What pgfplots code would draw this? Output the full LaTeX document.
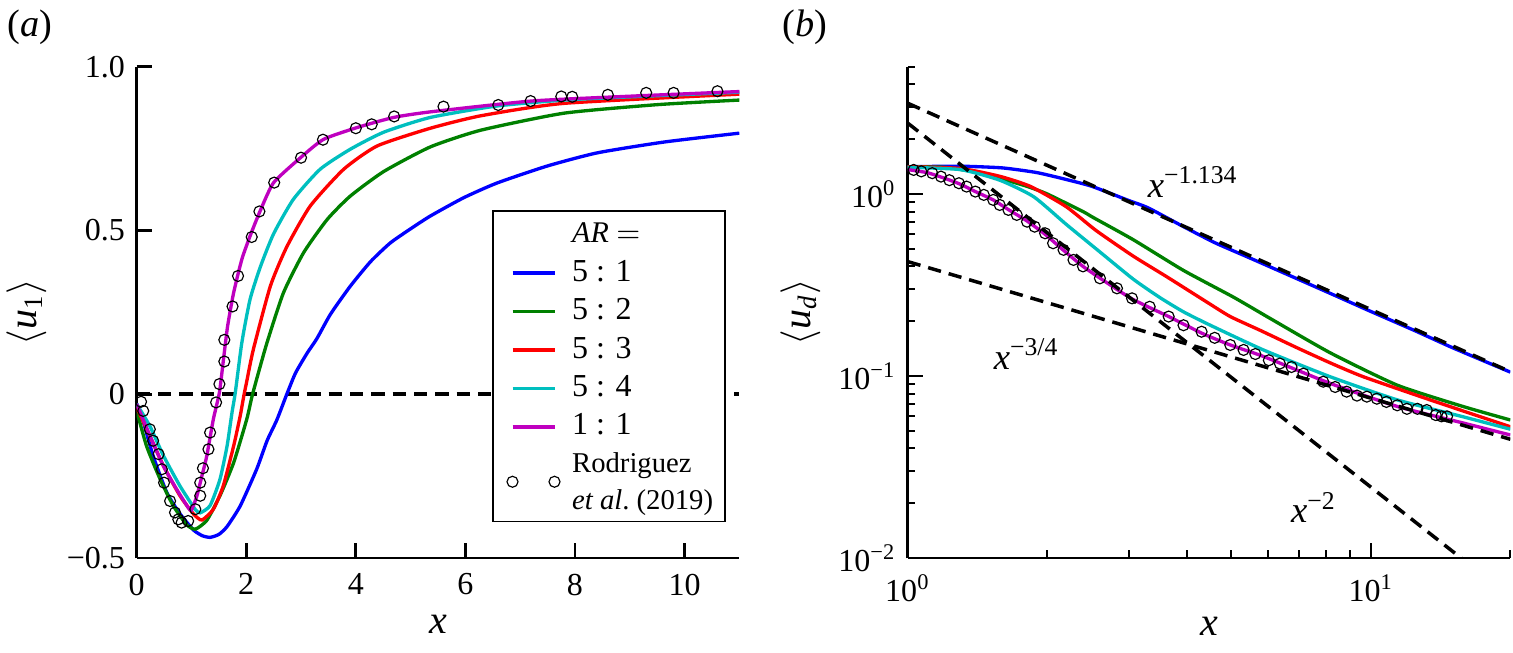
\documentclass[border=0pt]{standalone}
\usepackage{fontspec}
\setmainfont{Liberation Serif}
\usepackage{pgfplots}
\pgfplotsset{compat=1.18}

\definecolor{cB}{rgb}{0,0,1}
\definecolor{cG}{rgb}{0,0.5,0}
\definecolor{cR}{rgb}{1,0,0}
\definecolor{cC}{rgb}{0,0.75,0.75}
\definecolor{cM}{rgb}{0.75,0,0.75}

\pgfplotsset{
  panel/.style={
    scale only axis, width=180.8pt, height=147.4pt,
    axis x line=bottom, axis y line=left,
    axis line style={-, line width=0.8pt},
    tick align=inside, major tick length=4.5pt, minor tick length=2.3pt,
    every tick/.style={black, line width=0.8pt},
    every minor tick/.style={black, line width=0.6pt},
    ticklabel style={font=\fontsize{9.6}{11}\selectfont},
    label style={font=\fontsize{12}{14}\selectfont},
    enlargelimits=false,
  },
  curve/.style={line width=1pt, smooth, tension=0.35},
  guide/.style={black, line width=1.05pt, dash pattern=on 4pt off 2.4pt},
  refpts/.style={only marks, mark=o, mark size=1.65pt, black, mark options={line width=0.35pt}},
  % the two reference markers sit between the two text lines of their entry
  twomarks/.style={legend image code/.code={%
      \path (0pt,0pt) (19.2pt,0pt);
      \draw[overlay, black, only marks, mark=o, mark size=1.65pt, line width=0.35pt]
        plot coordinates {(1.8pt,-5.1pt) (14.4pt,-5.1pt)};}},
}

\begin{document}
\begin{tikzpicture}
\path[use as bounding box] (0,0) rectangle (453.9pt,195.6pt);

\node[anchor=west, inner sep=0pt, font=\fontsize{11.5}{13}\selectfont] at (2.1pt,187.5pt) {(\textit{a})};
\node[anchor=west, inner sep=0pt, font=\fontsize{11.5}{13}\selectfont] at (234.6pt,187.5pt) {(\textit{b})};

% ---------------- panel (a): mean streamwise velocity on the centreline
\begin{axis}[panel, at={(41pt,28.2pt)}, anchor=south west,
  xmin=0, xmax=11, ymin=-0.5, ymax=1,
  xtick={0,2,4,6,8,10}, xticklabels={0,2,4,6,8,10},
  ytick={-0.5,0,0.5,1}, yticklabels={\textminus0.5,0,0.5,1.0},
  xticklabel style={yshift=-1.2pt},
  xlabel={\textit{x}}, ylabel={$\langle$\textit{u}\textsubscript{1}$\rangle$},
  xlabel style={at={(axis description cs:0.5,-0.135)}, anchor=center},
  ylabel style={at={(axis description cs:-0.183,0.5)}, anchor=center},
  legend style={at={(0.5896,0.7083)}, anchor=north west, draw=black, line width=0.5pt,
    fill=white, font=\fontsize{9.6}{11}\selectfont, inner xsep=3.6pt, inner ysep=2pt,
    row sep=0.5pt, nodes={inner xsep=0pt, inner ysep=1.6pt}},
  legend cell align=left,
  legend image code/.code={\path (0pt,0pt) (19.2pt,0pt);
    \draw[#1, line width=1pt] (1.8pt,0pt) -- (14.4pt,0pt);},
]
\addplot[guide, forget plot] coordinates {(0,0) (11,0)};

\addlegendimage{empty legend}
\addlegendentry[font=\fontsize{9}{10}\selectfont]{\textit{AR} $=$}

\addplot[curve, cB] coordinates {
(0,-0.03) (0.08,-0.06) (0.3,-0.188) (0.55,-0.30) (0.79,-0.365) (1.04,-0.415)
(1.2,-0.432) (1.34,-0.437) (1.5,-0.428) (1.65,-0.404) (1.89,-0.341) (2.19,-0.229)
(2.38,-0.142) (2.56,-0.078) (2.74,0.0) (2.9,0.065) (3.11,0.125) (3.29,0.170)
(3.54,0.245) (3.9,0.33) (4.27,0.405) (4.63,0.462) (5.0,0.505) (5.36,0.544)
(5.97,0.600) (6.58,0.645) (7.5,0.697) (8.41,0.737) (9.63,0.770) (11,0.797)};
\addlegendentry{5 : 1}

\addplot[curve, cG] coordinates {
(0,-0.05) (0.18,-0.158) (0.43,-0.26) (0.67,-0.341) (0.91,-0.398) (1.07,-0.412)
(1.28,-0.385) (1.52,-0.31) (1.77,-0.209) (2.01,-0.076) (2.10,-0.01) (2.19,0.046)
(2.38,0.158) (2.68,0.31) (3.05,0.433) (3.48,0.534) (3.9,0.605) (4.51,0.680)
(5.36,0.755) (6.28,0.806) (7.8,0.858) (9.5,0.884) (11,0.898)};
\addlegendentry{5 : 2}

\addplot[curve, cR] coordinates {
(0,-0.04) (0.24,-0.127) (0.49,-0.219) (0.79,-0.31) (1.04,-0.366) (1.19,-0.384)
(1.40,-0.351) (1.58,-0.28) (1.77,-0.158) (1.89,-0.066) (1.95,-0.01) (2.01,0.040)
(2.13,0.137) (2.44,0.33) (2.74,0.45) (3.17,0.575) (3.78,0.687) (4.39,0.758)
(5.36,0.812) (6.28,0.850) (7.8,0.888) (11,0.916)};
\addlegendentry{5 : 3}

\addplot[curve, cC] coordinates {
(0,-0.03) (0.24,-0.097) (0.49,-0.188) (0.79,-0.28) (1.07,-0.352) (1.16,-0.362)
(1.34,-0.34) (1.52,-0.26) (1.65,-0.158) (1.74,-0.056) (1.80,0.005) (1.92,0.158)
(2.07,0.29) (2.26,0.39) (2.50,0.49) (2.86,0.595) (3.35,0.687) (3.90,0.748)
(4.51,0.80) (5.36,0.845) (6.58,0.88) (8,0.90) (11,0.922)};
\addlegendentry{5 : 4}

\addplot[curve, cM] coordinates {
(0,-0.03) (0.243,-0.127) (0.487,-0.219) (0.73,-0.29) (0.94,-0.346) (1.0,-0.354)
(1.10,-0.31) (1.19,-0.25) (1.28,-0.188) (1.40,-0.076) (1.51,0.005) (1.585,0.107)
(1.66,0.208) (1.77,0.31) (1.92,0.412) (2.07,0.483) (2.255,0.56) (2.50,0.646)
(2.99,0.722) (3.41,0.778) (4.02,0.814) (4.69,0.845) (5.36,0.862) (7.2,0.895)
(9.03,0.91) (11,0.924)};
\addlegendentry{1 : 1}

\addplot[refpts, twomarks] coordinates {
(0.08,-0.023) (0.12,-0.051) (0.24,-0.107) (0.30,-0.142) (0.40,-0.183) (0.46,-0.229)
(0.50,-0.27) (0.61,-0.326) (0.70,-0.361) (0.76,-0.382) (0.82,-0.392) (0.94,-0.387)
(1.07,-0.351) (1.16,-0.31) (1.16,-0.27) (1.21,-0.226) (1.31,-0.168) (1.34,-0.117)
(1.45,-0.025) (1.51,0.031) (1.60,0.10) (1.60,0.166) (1.75,0.268) (1.85,0.361)
(2.10,0.48) (2.24,0.558) (2.51,0.646) (3.0,0.722) (3.40,0.777) (4.0,0.812)
(4.29,0.824) (4.70,0.848) (5.60,0.878) (6.60,0.883) (7.19,0.895) (7.75,0.909)
(7.95,0.908) (8.60,0.914) (9.30,0.92) (9.80,0.92) (10.60,0.925)};
\addlegendentry[font=\fontsize{8.6}{10}\selectfont]{Rodriguez}
\addlegendimage{empty legend}
\addlegendentry[font=\fontsize{8.6}{10}\selectfont, text depth=0pt]{\textit{et al}.~(2019)}
\end{axis}

% ---------------- panel (b): decay of the mean velocity, log-log
\begin{axis}[panel, at={(272.3pt,28.2pt)}, anchor=south west,
  xmode=log, ymode=log,
  xmin=1, xmax=20, ymin=0.01, ymax=5,
  xtick={1,10}, xticklabels={10\textsuperscript{0},10\textsuperscript{1}},
  minor xtick={2,3,4,5,6,7,8,9,20},
  ytick={0.01,0.1,1},
  yticklabels={10\textsuperscript{\textminus2},10\textsuperscript{\textminus1},10\textsuperscript{0}},
  minor ytick={0.02,0.03,0.04,0.05,0.06,0.07,0.08,0.09,0.2,0.3,0.4,0.5,0.6,0.7,0.8,0.9,2,3,4,5},
  xticklabel style={yshift=-1.5pt},
  xlabel={\textit{x}}, ylabel={$\langle$\textit{u}\textsubscript{\textit{d}}$\rangle$},
  xlabel style={at={(axis description cs:0.5,-0.14)}, anchor=center},
  ylabel style={at={(axis description cs:-0.178,0.5)}, anchor=center},
]
\addplot[curve, cB] coordinates {
(1,1.41) (1.3,1.42) (1.6,1.39) (1.9,1.31) (2.2,1.20) (2.5,1.10) (3.0,0.92)
(3.3,0.84) (3.9,0.67) (4.6,0.54) (5.4,0.452) (6.7,0.355) (8.2,0.283) (10,0.226)
(12.4,0.178) (15,0.143) (20,0.105)};
\addplot[curve, cG] coordinates {
(1,1.41) (1.2,1.40) (1.4,1.32) (1.58,1.22) (1.81,1.10) (2.0,1.00) (2.39,0.80)
(2.52,0.74) (3.07,0.56) (3.94,0.38) (5.05,0.271) (6.06,0.207) (8.17,0.134)
(11.4,0.089) (15.8,0.068) (20,0.0573)};
\addplot[curve, cR] coordinates {
(1,1.41) (1.3,1.38) (1.58,1.25) (1.84,1.10) (2.2,0.85) (2.55,0.63) (3.07,0.455)
(3.63,0.35) (4.42,0.255) (4.97,0.212) (5.77,0.178) (6.92,0.143) (8.17,0.118)
(9.63,0.099) (13.4,0.074) (20,0.0526)};
\addplot[curve, cC] coordinates {
(1,1.40) (1.3,1.36) (1.58,1.19) (1.87,0.966) (2.2,0.68) (2.6,0.48) (3.07,0.34)
(3.5,0.27) (3.94,0.225) (4.5,0.19) (5.86,0.139) (8.17,0.099) (11.4,0.0739)
(15.8,0.0597) (20,0.051)};
\addplot[curve, cM] coordinates {
(1,1.36) (1.1,1.31) (1.2,1.22) (1.3,1.13) (1.4,1.03) (1.53,0.927) (1.65,0.82)
(1.81,0.71) (1.98,0.60) (2.17,0.49) (2.39,0.40) (2.6,0.345) (3.05,0.265)
(3.66,0.212) (4.31,0.172) (4.97,0.148) (5.86,0.128) (8.17,0.091) (11.4,0.068)
(15.8,0.0552) (20,0.0474)};
\addplot[refpts] coordinates {
(1.03,1.355) (1.07,1.33) (1.13,1.30) (1.18,1.245) (1.23,1.19) (1.29,1.145)
(1.34,1.097) (1.40,1.03) (1.46,0.988) (1.53,0.927) (1.58,0.87) (1.65,0.817)
(1.72,0.767) (1.81,0.704) (1.88,0.661) (1.98,0.608) (2.06,0.536) (2.17,0.493)
(2.28,0.434) (2.39,0.40) (2.60,0.344) (2.83,0.303) (3.05,0.267) (3.33,0.24)
(3.66,0.212) (3.94,0.19) (4.31,0.175) (4.60,0.162) (4.97,0.148) (5.31,0.139)
(5.63,0.132) (6.02,0.122) (6.36,0.117) (6.74,0.112) (7.15,0.103) (7.89,0.093)
(8.37,0.087) (8.86,0.082) (9.33,0.078) (9.80,0.077) (10.3,0.075) (10.8,0.072)
(11.4,0.069) (11.96,0.066) (12.6,0.066) (13.2,0.065) (13.8,0.061) (14.2,0.060)
(14.6,0.060)};

% power-law guides
\addplot[guide] coordinates {(1,3.15) (20,0.1055)};
\addplot[guide] coordinates {(1,0.425) (20,0.0449)};
\addplot[guide] coordinates {(1,2.45) (20,0.006125)};

\node[anchor=base west, inner sep=0pt, font=\fontsize{11}{13}\selectfont] at (axis cs:3.29,0.96)
  {\textit{x}\textsuperscript{\textminus1.134}};
\node[anchor=base west, inner sep=0pt, font=\fontsize{11}{13}\selectfont] at (axis cs:1.53,0.109)
  {\textit{x}\textsuperscript{\textminus3/4}};
\node[anchor=base west, inner sep=0pt, font=\fontsize{11}{13}\selectfont] at (axis cs:6.70,0.0156)
  {\textit{x}\textsuperscript{\textminus2}};
\end{axis}
\end{tikzpicture}
\end{document}
